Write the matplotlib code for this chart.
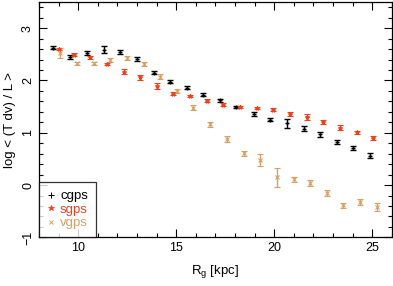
import numpy as np
from matplotlib import pyplot as plt
from matplotlib.ticker import MultipleLocator

plt.rcParams['font.family'] = ['Liberation Sans', 'DejaVu Sans']

# cgps
x_c = [8.71, 9.58, 10.46, 11.30, 12.15, 12.98, 13.85, 14.70, 15.55, 16.38,
       17.25, 18.07, 18.95, 19.79, 20.65, 21.50, 22.35, 23.20, 24.04, 24.90]
y_c = [2.63, 2.45, 2.52, 2.59, 2.55, 2.41, 2.15, 1.98, 1.86, 1.73,
       1.62, 1.50, 1.36, 1.25, 1.18, 1.08, 0.97, 0.82, 0.71, 0.56]
e_c = [0.02, 0.04, 0.04, 0.07, 0.04, 0.04, 0.03, 0.03, 0.03, 0.03,
       0.03, 0.02, 0.04, 0.03, 0.08, 0.04, 0.05, 0.04, 0.03, 0.05]

# sgps
x_s = [9.02, 9.77, 10.62, 11.45, 12.32, 13.17, 14.00, 14.85, 15.70, 16.57,
       17.40, 18.26, 19.10, 19.95, 20.80, 21.66, 22.50, 23.36, 24.20, 25.06]
y_s = [2.61, 2.49, 2.44, 2.31, 2.17, 2.06, 1.89, 1.75, 1.70, 1.61,
       1.54, 1.50, 1.48, 1.44, 1.36, 1.30, 1.21, 1.10, 1.01, 0.90]
e_s = [0.02, 0.03, 0.03, 0.02, 0.04, 0.05, 0.06, 0.03, 0.02, 0.03,
       0.03, 0.02, 0.02, 0.03, 0.04, 0.05, 0.04, 0.04, 0.03, 0.04]

# vgps
x_v = [9.10, 9.95, 10.80, 11.64, 12.49, 13.34, 14.19, 15.04, 15.87, 16.74,
       17.59, 18.44, 19.28, 20.13, 21.00, 21.83, 22.68, 23.53, 24.38, 25.23]
y_v = [2.53, 2.33, 2.33, 2.39, 2.43, 2.31, 2.07, 1.80, 1.48, 1.16,
       0.88, 0.61, 0.48, 0.15, 0.11, 0.04, -0.15, -0.39, -0.33, -0.42]
e_v = [0.10, 0.03, 0.03, 0.03, 0.03, 0.04, 0.05, 0.04, 0.05, 0.05,
       0.05, 0.05, 0.12, 0.18, 0.05, 0.05, 0.05, 0.05, 0.06, 0.07]

black = '#000000'
red = '#f0401c'
tan = '#d9a066'

fig = plt.figure(figsize=(3.93, 2.86), dpi=100)
ax = fig.add_axes([0.099, 0.170, 0.898, 0.823])

ax.errorbar(x_c, y_c, yerr=e_c, fmt='+', color=black, ms=3, mew=1,
            elinewidth=1, capsize=2.2, capthick=1, label='cgps')
ax.errorbar(x_s, y_s, yerr=e_s, fmt='*', color=red, ms=3, mew=0.8,
            elinewidth=1, capsize=2.2, capthick=1, label='sgps')
ax.errorbar(x_v, y_v, yerr=e_v, fmt='x', color=tan, ms=3, mew=0.8,
            elinewidth=1, capsize=2.2, capthick=1, label='vgps')

ax.set_xlim(8, 26)
ax.set_ylim(-1, 3.5)
ax.xaxis.set_major_locator(MultipleLocator(5))
ax.xaxis.set_minor_locator(MultipleLocator(1))
ax.yaxis.set_major_locator(MultipleLocator(1))
ax.yaxis.set_minor_locator(MultipleLocator(0.2))
ax.tick_params(which='both', direction='in', top=True, right=True,
               labelsize=9, width=0.8)
ax.tick_params(which='major', length=6)
ax.tick_params(which='minor', length=3)
for lab in ax.get_yticklabels():
    lab.set_rotation(90)
    lab.set_va('center')
for s in ax.spines.values():
    s.set_linewidth(0.9)

ax.set_xlabel('R$_\\mathregular{g}$ [kpc]', fontsize=9.5, labelpad=6)
ax.set_ylabel('log < (T dv) / L >', fontsize=9.5)

handles = [plt.Line2D([], [], ls='none', marker='+', color=black, ms=4, mew=0.7),
           plt.Line2D([], [], ls='none', marker='*', color=red, ms=4, mew=0.5),
           plt.Line2D([], [], ls='none', marker='x', color=tan, ms=3, mew=0.7)]
leg = ax.legend(handles, ['cgps', 'sgps', 'vgps'], loc='lower left',
                fontsize=9.5, frameon=True, fancybox=False, borderaxespad=0,
                handlelength=0.7, handletextpad=0.3, labelspacing=0.1,
                borderpad=0.6, labelcolor=[black, red, tan])
leg.get_frame().set_edgecolor('black')
leg.get_frame().set_linewidth(0.9)

plt.savefig('out.png', dpi=100)
